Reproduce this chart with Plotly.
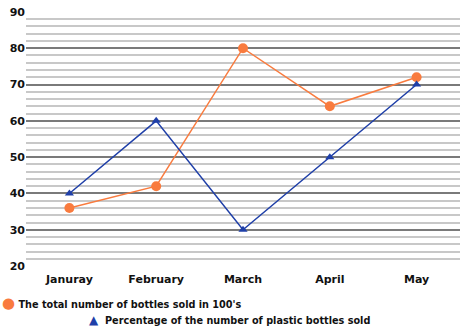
import plotly.graph_objects as go

months = ["Januray", "February", "March", "April", "May"]
total_bottles = [36, 42, 80, 64, 72]
plastic_pct = [40, 60, 30, 50, 70]
name_total = "The total number of bottles sold in 100's"
name_plastic = "Percentage of the number of plastic bottles sold"

ORANGE = "#F97B3E"
BLUE = "#1F3FA8"
FONT = "DejaVu Sans"

fig = go.Figure()
fig.add_trace(go.Scatter(x=months, y=total_bottles, name=name_total, mode="lines+markers",
                         line=dict(color=ORANGE, width=1.5),
                         marker=dict(symbol="circle", size=10, color=ORANGE)))
fig.add_trace(go.Scatter(x=months, y=plastic_pct, name=name_plastic, mode="lines+markers",
                         line=dict(color=BLUE, width=1.5),
                         marker=dict(symbol="triangle-up", size=8, color=BLUE)))

fig.update_layout(
    width=467, height=330,
    margin=dict(l=26, r=7, t=6, b=63),
    plot_bgcolor="white", paper_bgcolor="white",
    showlegend=False,
    font=dict(family=FONT, size=11, color="#111"),
    xaxis=dict(range=[-0.5, 4.5], showgrid=False, zeroline=False, showline=False,
               ticks="", ticklabelstandoff=4,
               tickfont=dict(family=FONT, size=11, weight="bold")),
    yaxis=dict(range=[19.75, 90.25], dtick=10, tick0=20, showgrid=True, gridcolor="#7a7a7a", gridwidth=1.5,
               zeroline=False, showline=False, ticks="",
               tickfont=dict(family=FONT, size=11, weight="bold"),
               minor=dict(dtick=2, tick0=20, showgrid=True, gridcolor="#c8c8c8", gridwidth=1.5)),
    annotations=[
        dict(xref="paper", yref="paper", x=-26/434, y=-37/261, xanchor="left", yanchor="middle",
             showarrow=False, font=dict(family=FONT, size=9.7, color="#111", weight="bold"),
             text=f"<span style='color:{ORANGE};font-size:15px'>●</span> {name_total}"),
        dict(xref="paper", yref="paper", x=(87-26)/434, y=-54/261, xanchor="left", yanchor="middle",
             showarrow=False, font=dict(family=FONT, size=9.7, color="#111", weight="bold"),
             text=f"<span style='color:{BLUE};font-size:12px'>▲</span>  {name_plastic}"),
    ],
)

fig.write_html("out.html")
